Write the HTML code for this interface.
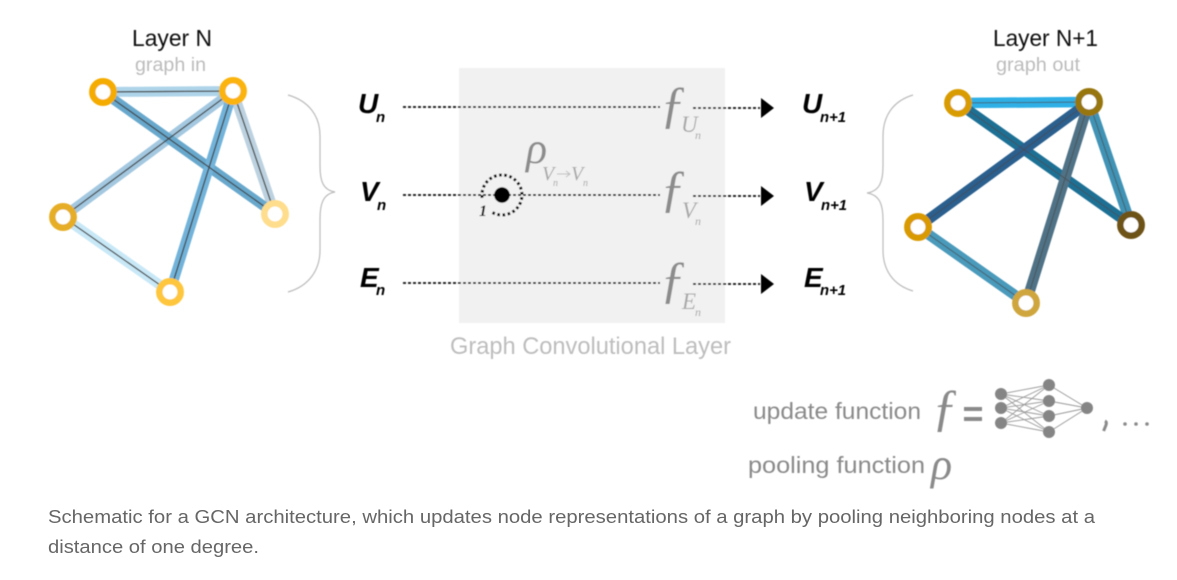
<!DOCTYPE html>
<html><head><meta charset="utf-8"><style>
html,body{margin:0;padding:0;background:#fff;width:1177px;height:580px;overflow:hidden}
svg{display:block}
text{font-family:"Liberation Sans",sans-serif}
.s{font-family:"Liberation Serif",serif;font-style:italic}
.b{font-weight:bold;font-style:italic;fill:#000}
</style></head><body>
<svg width="1177" height="580" viewBox="0 0 1177 580" xmlns="http://www.w3.org/2000/svg">
<defs><filter id="soft" x="-5%" y="-5%" width="110%" height="110%"><feGaussianBlur stdDeviation="0.45"/></filter></defs>
<g filter="url(#soft)">
<rect x="459" y="68" width="266" height="255" fill="#f1f1f1"/>

<!-- left graph -->
<g fill="none" stroke-width="10">
<line x1="103" y1="92" x2="233" y2="91" stroke="#aed4e9"/>
<line x1="233" y1="91" x2="63" y2="217" stroke="#a3c8e0"/>
<line x1="233" y1="91" x2="275" y2="214" stroke="#bcd2e0"/>
<line x1="63" y1="217" x2="170" y2="292" stroke="#c8e8f7"/>
<line x1="103" y1="92" x2="275" y2="214" stroke="#68a8cc"/>
<line x1="233" y1="91" x2="170" y2="292" stroke="#72b3da"/>
</g>
<g stroke="#444" stroke-width="1.3">
<line x1="103" y1="92" x2="233" y2="91"/>
<line x1="233" y1="91" x2="63" y2="217"/>
<line x1="233" y1="91" x2="275" y2="214"/>
<line x1="63" y1="217" x2="170" y2="292"/>
<line x1="103" y1="92" x2="275" y2="214"/>
<line x1="233" y1="91" x2="170" y2="292"/>
</g>
<g fill="#fff" stroke-width="6.5">
<circle cx="103" cy="92" r="10.7" stroke="#f5ac00"/>
<circle cx="233" cy="91" r="10.7" stroke="#fbb40f"/>
<circle cx="275" cy="214" r="10.7" stroke="#fedd8c"/>
<circle cx="63" cy="217" r="10.7" stroke="#e6ae27"/>
<circle cx="170" cy="292" r="10.7" stroke="#fec63c"/>
</g>
<path d="M288,95 C309,101 320,116 320,136 L320,166 C320,181 323,190 335,192 C323,194 320,204 320,219 L320,250 C320,270 309,286 288,292" fill="none" stroke="#bbb" stroke-width="1.2"/>

<!-- right graph -->
<g fill="none" stroke-width="10.5">
<line x1="958" y1="103" x2="1089" y2="102" stroke="#2fb0e6"/>
<line x1="1089" y1="102" x2="1131" y2="225" stroke="#3f93b5"/>
<line x1="918" y1="227" x2="1026" y2="303" stroke="#4a9abb"/>
<line x1="958" y1="103" x2="1131" y2="225" stroke="#1f6f94"/>
<line x1="1089" y1="102" x2="918" y2="227" stroke="#2a5f8e"/>
<line x1="1089" y1="102" x2="1026" y2="303" stroke="#4f7286"/>
</g>
<g stroke="#4a4a4a" stroke-width="1" opacity=".75">
<line x1="958" y1="103" x2="1089" y2="102"/>
<line x1="1089" y1="102" x2="1131" y2="225"/>
<line x1="918" y1="227" x2="1026" y2="303"/>
<line x1="958" y1="103" x2="1131" y2="225"/>
<line x1="1089" y1="102" x2="918" y2="227"/>
<line x1="1089" y1="102" x2="1026" y2="303"/>
</g>
<g fill="#fff" stroke-width="6.5">
<circle cx="958" cy="103" r="10.7" stroke="#d99c00"/>
<circle cx="1089" cy="102" r="10.7" stroke="#97760a"/>
<circle cx="1131" cy="225" r="10.7" stroke="#6e5315"/>
<circle cx="918" cy="227" r="10.7" stroke="#d99a00"/>
<circle cx="1026" cy="303" r="10.7" stroke="#cfa63d"/>
</g>
<path d="M913,95 C893,101 883,116 883,136 L883,166 C883,181 880,191 867,193 C880,195 883,205 883,220 L883,250 C883,270 893,285 913,291" fill="none" stroke="#bbb" stroke-width="1.2"/>

<!-- dotted connectors -->
<g stroke="#111" stroke-width="1.8" stroke-dasharray="3 2" fill="none">
<line x1="403" y1="107" x2="660" y2="107"/>
<line x1="693" y1="108" x2="760" y2="108"/>
<line x1="403" y1="195" x2="660" y2="195"/>
<line x1="693" y1="196" x2="760" y2="196"/>
<line x1="403" y1="283" x2="660" y2="283"/>
<line x1="693" y1="284" x2="760" y2="284"/>
</g>
<g fill="#000">
<polygon points="761,98 774,108 761,118"/>
<polygon points="761,186 774,196 761,206"/>
<polygon points="761,274 774,284 761,294"/>
</g>

<!-- neighbourhood -->
<circle cx="502" cy="195" r="7.8" fill="#000"/>
<path d="M492.5,212.6 A20,20 0 1 0 482.6,200" fill="none" stroke="#000" stroke-width="3" stroke-dasharray="2.6 2.6"/>
<text x="479" y="216" class="s" font-size="16" font-weight="bold" fill="#111">1</text>

<!-- input labels -->
<text x="358" y="113" class="b" font-size="28">U</text><text x="376" y="122" class="b" font-size="15">n</text>
<text x="360" y="201" class="b" font-size="28">V</text><text x="377" y="210" class="b" font-size="15">n</text>
<text x="360" y="287" class="b" font-size="28">E</text><text x="376" y="295" class="b" font-size="15">n</text>
<!-- output labels -->
<text x="802" y="113" class="b" font-size="28">U</text><text x="820" y="122" class="b" font-size="15" textLength="26" lengthAdjust="spacingAndGlyphs">n+1</text>
<text x="804" y="201" class="b" font-size="28">V</text><text x="821" y="210" class="b" font-size="15" textLength="26" lengthAdjust="spacingAndGlyphs">n+1</text>
<text x="804" y="287" class="b" font-size="28">E</text><text x="820" y="295" class="b" font-size="15" textLength="26" lengthAdjust="spacingAndGlyphs">n+1</text>

<!-- f labels -->
<text x="660" y="122" class="s" font-size="52" fill="#8c8c8c">ƒ</text>
<text x="660" y="206" class="s" font-size="52" fill="#8c8c8c">ƒ</text>
<text x="660" y="297" class="s" font-size="52" fill="#8c8c8c">ƒ</text>
<g fill="#a8a8a8">
<text x="681" y="132" class="s" font-size="23">U</text><text x="695" y="139" class="s" font-size="12">n</text>
<text x="682" y="218" class="s" font-size="23">V</text><text x="695" y="225" class="s" font-size="12">n</text>
<text x="682" y="309" class="s" font-size="23">E</text><text x="695" y="316" class="s" font-size="12">n</text>
</g>
<!-- rho -->
<text x="526" y="163" class="s" font-size="44" fill="#8c8c8c">ρ</text>
<g fill="#a8a8a8">
<text x="542" y="180" class="s" font-size="20">V</text><text x="553" y="186" class="s" font-size="10">n</text>
<text x="571" y="180" class="s" font-size="20">V</text><text x="583" y="186" class="s" font-size="10">n</text>
</g>
<path d="M557,174 H570 M566,171 L570,174 L566,177" fill="none" stroke="#bdbdbd" stroke-width="0.9"/>

<!-- titles -->
<text x="132" y="46" font-size="23" fill="#111" textLength="80" lengthAdjust="spacingAndGlyphs">Layer N</text>
<text x="135" y="71" font-size="19" fill="#bcbcbc" textLength="71" lengthAdjust="spacingAndGlyphs">graph in</text>
<text x="993" y="46" font-size="23" fill="#111" textLength="105" lengthAdjust="spacingAndGlyphs">Layer N+1</text>
<text x="996" y="71" font-size="19" fill="#bcbcbc" textLength="84" lengthAdjust="spacingAndGlyphs">graph out</text>
<text x="450" y="354" font-size="24" fill="#bdbdbd" textLength="281" lengthAdjust="spacingAndGlyphs">Graph Convolutional Layer</text>

<!-- legend -->
<text x="753" y="419" font-size="23" fill="#8a8a8a" textLength="168" lengthAdjust="spacingAndGlyphs">update function</text>
<text x="748" y="473" font-size="23" fill="#8a8a8a" textLength="177" lengthAdjust="spacingAndGlyphs">pooling function</text>
<text x="932" y="425" class="s" font-size="52" fill="#8a8a8a">ƒ</text>
<rect x="964" y="407" width="18" height="4" fill="#8a8a8a"/>
<rect x="964" y="417" width="18" height="4" fill="#8a8a8a"/>
<text x="931" y="479" class="s" font-size="44" fill="#8a8a8a">ρ</text>
<path d="M1105,421 q2,1 1,4 l-2.4,6" fill="none" stroke="#8a8a8a" stroke-width="3"/>
<g fill="#8a8a8a"><circle cx="1125" cy="424" r="1.8"/><circle cx="1136" cy="424" r="1.8"/><circle cx="1147" cy="424" r="1.8"/></g>
<g stroke="#999" stroke-width="0.9">
<path d="M1001,394 L1049,385 M1001,394 L1049,401 M1001,394 L1049,416 M1001,394 L1049,432 M1001,408 L1049,385 M1001,408 L1049,401 M1001,408 L1049,416 M1001,408 L1049,432 M1001,423 L1049,385 M1001,423 L1049,401 M1001,423 L1049,416 M1001,423 L1049,432 M1049,385 L1087,408 M1049,401 L1087,408 M1049,416 L1087,408 M1049,432 L1087,408"/>
</g>
<g fill="#858585">
<circle cx="1001" cy="394" r="6"/><circle cx="1001" cy="408" r="6"/><circle cx="1001" cy="423" r="6"/>
<circle cx="1049" cy="385" r="6"/><circle cx="1049" cy="401" r="6"/><circle cx="1049" cy="416" r="6"/><circle cx="1049" cy="432" r="6"/>
<circle cx="1087" cy="408" r="6"/>
</g>
</g>

<!-- caption -->
<text x="48" y="523" font-size="18" fill="#666" textLength="1047" lengthAdjust="spacingAndGlyphs">Schematic for a GCN architecture, which updates node representations of a graph by pooling neighboring nodes at a</text>
<text x="48" y="553" font-size="18" fill="#666" textLength="211" lengthAdjust="spacingAndGlyphs">distance of one degree.</text>
</svg>
</body></html>
